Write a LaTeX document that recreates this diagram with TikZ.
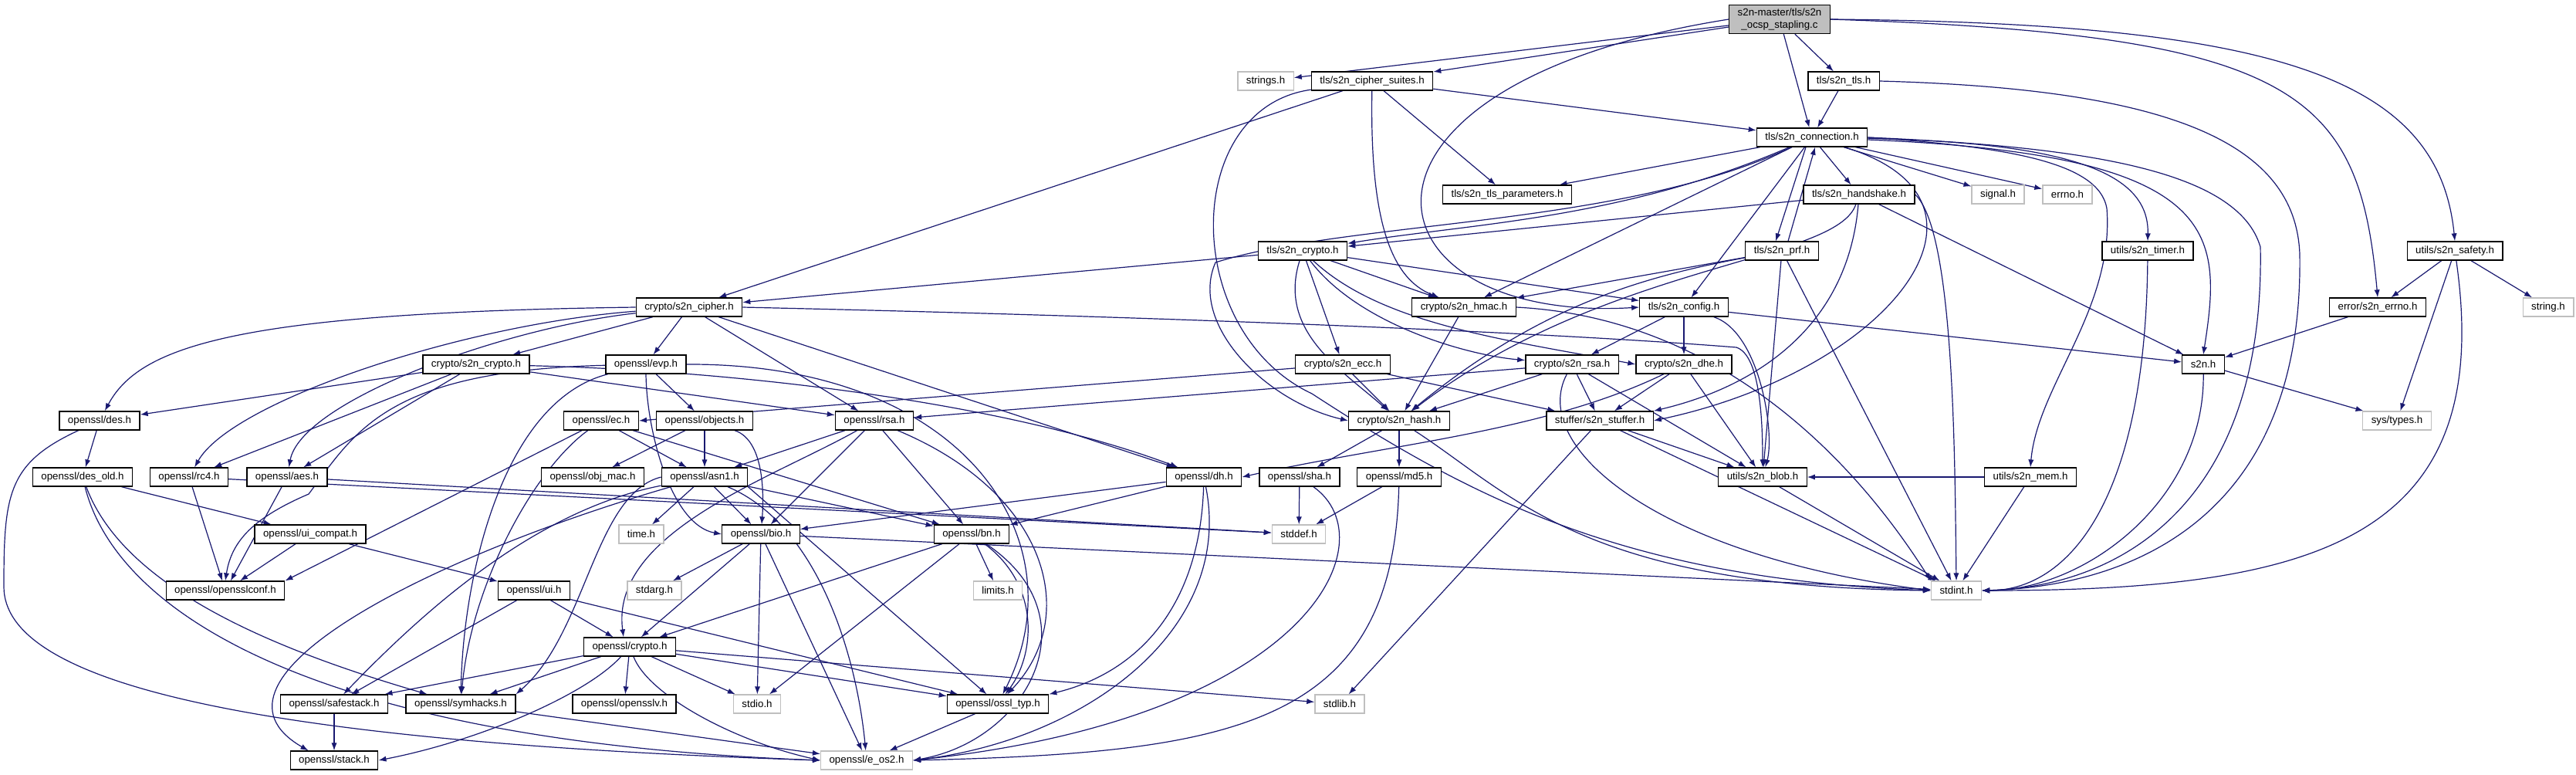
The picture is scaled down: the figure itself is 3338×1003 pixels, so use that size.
\documentclass[tikz,border=0pt]{standalone}
\usepackage{fontspec}
\setmainfont{Liberation Sans}
\usetikzlibrary{arrows.meta}
\definecolor{edgeblue}{RGB}{25,25,112}
\definecolor{sysgray}{RGB}{191,191,191}
\pgfdeclarelayer{edges}
\pgfsetlayers{edges,main}

\begin{document}
\begin{tikzpicture}[
  x=0.5pt, y=-0.5pt,
  hdr/.style={draw=black, fill=white, line width=0.65pt, minimum height=12pt, inner xsep=5.5pt, inner ysep=0pt, font=\fontsize{6.65}{7.6}\selectfont},
  sys/.style={hdr, draw=sysgray},
  root/.style={hdr, fill=sysgray, minimum height=18.5pt, align=center},
  arr/.style={-{Latex[length=5pt,width=3.6pt]}, draw=edgeblue, line width=0.6pt}
]
\useasboundingbox (0,0) rectangle (3338,1003);

% rows of the include graph
\node[root] (main) at (2306,25) {s2n-master/tls/s2n\\\_ocsp\_stapling.c};

\node[sys] (strings) at (1640,105) {strings.h};
\node[hdr] (suites) at (1778,105) {tls/s2n\_cipher\_suites.h};
\node[hdr] (tlstls) at (2389,105) {tls/s2n\_tls.h};

\node[hdr] (conn) at (2348,178) {tls/s2n\_connection.h};

\node[hdr] (params) at (1953,252) {tls/s2n\_tls\_parameters.h};
\node[hdr] (hshake) at (2409,252) {tls/s2n\_handshake.h};
\node[sys] (signal) at (2589,252) {signal.h};
\node[sys] (errno) at (2679,252) {errno.h};

\node[hdr] (tlscrypto) at (1688,325) {tls/s2n\_crypto.h};
\node[hdr] (prf) at (2309,325) {tls/s2n\_prf.h};
\node[hdr] (timer) at (2783,325) {utils/s2n\_timer.h};
\node[hdr] (safety) at (3181,325) {utils/s2n\_safety.h};

\node[hdr] (cipher) at (893,398) {crypto/s2n\_cipher.h};
\node[hdr] (hmac) at (1897,398) {crypto/s2n\_hmac.h};
\node[hdr] (config) at (2182,398) {tls/s2n\_config.h};
\node[hdr] (s2nerrno) at (3081,398) {error/s2n\_errno.h};
\node[sys] (string) at (3302,398) {string.h};

\node[hdr] (scrypto) at (617,472) {crypto/s2n\_crypto.h};
\node[hdr] (evp) at (837,472) {openssl/evp.h};
\node[hdr] (ecc) at (1740,472) {crypto/s2n\_ecc.h};
\node[hdr] (srsa) at (2037,472) {crypto/s2n\_rsa.h};
\node[hdr] (dhe) at (2182,472) {crypto/s2n\_dhe.h};
\node[hdr] (s2nh) at (2855,472) {s2n.h};

\node[hdr] (des) at (129,545) {openssl/des.h};
\node[hdr] (ec) at (779,545) {openssl/ec.h};
\node[hdr] (objects) at (913,545) {openssl/objects.h};
\node[hdr] (orsa) at (1133,545) {openssl/rsa.h};
\node[hdr] (hash) at (1813,545) {crypto/s2n\_hash.h};
\node[hdr] (stuffer) at (2073,545) {stuffer/s2n\_stuffer.h};
\node[sys] (systypes) at (3106,545) {sys/types.h};

\node[hdr] (desold) at (107,618) {openssl/des\_old.h};
\node[hdr] (rc4) at (245,618) {openssl/rc4.h};
\node[hdr] (aes) at (372,618) {openssl/aes.h};
\node[hdr] (objmac) at (768,618) {openssl/obj\_mac.h};
\node[hdr] (asn1) at (913,618) {openssl/asn1.h};
\node[hdr] (dh) at (1560,618) {openssl/dh.h};
\node[hdr] (sha) at (1684,618) {openssl/sha.h};
\node[hdr] (md5) at (1813,618) {openssl/md5.h};
\node[hdr] (blob) at (2284,618) {utils/s2n\_blob.h};
\node[hdr] (mem) at (2631,618) {utils/s2n\_mem.h};

\node[hdr] (uicompat) at (402,692) {openssl/ui\_compat.h};
\node[sys] (time) at (831,692) {time.h};
\node[hdr] (bio) at (986,692) {openssl/bio.h};
\node[hdr] (bn) at (1259,692) {openssl/bn.h};
\node[sys] (stddef) at (1683,692) {stddef.h};

\node[hdr] (sslconf) at (292,765) {openssl/opensslconf.h};
\node[hdr] (ui) at (692,765) {openssl/ui.h};
\node[sys] (stdarg) at (848,765) {stdarg.h};
\node[sys] (limits) at (1293,765) {limits.h};
\node[sys] (stdint) at (2535,765) {stdint.h};

\node[hdr] (ocrypto) at (816,838) {openssl/crypto.h};

\node[hdr] (safestack) at (433,912) {openssl/safestack.h};
\node[hdr] (symhacks) at (597,912) {openssl/symhacks.h};
\node[hdr] (sslv) at (809,912) {openssl/opensslv.h};
\node[sys] (stdio) at (981,912) {stdio.h};
\node[hdr] (ossltyp) at (1293,912) {openssl/ossl\_typ.h};
\node[sys] (stdlib) at (1736,912) {stdlib.h};

\node[hdr] (stack) at (433,985) {openssl/stack.h};
\node[sys] (eos2) at (1123,985) {openssl/e\_os2.h};

\begin{pgfonlayer}{edges}
% s2n sources
\draw[arr] (main) -- (strings);
\draw[arr] (main) -- (suites);
\draw[arr] (main) -- (tlstls);
\draw[arr] (main) -- (conn);
\draw[arr] (main.west) .. controls (1700,110) and (1760,420) .. (config.west);
\draw[arr] (main.east) .. controls (2980,45) and (3057,120) .. (s2nerrno.north);
\draw[arr] (main.east) .. controls (2950,30) and (3160,100) .. (safety.north);

\draw[arr] (suites) -- (cipher);
\draw[arr] (suites) -- (params);
\draw[arr] (suites) .. controls (1775,280) and (1800,360) .. (hmac);
\draw[arr] (suites) -- (conn);
\draw[arr] (suites) .. controls (1530,140) and (1530,430) .. (1700,510) .. controls (1900,640) and (2100,750) .. (stdint.west);

\draw[arr] (tlstls) -- (conn);
\draw[arr] (tlstls.east) .. controls (2800,115) and (2975,180) .. (2980,330) .. controls (2985,680) and (2750,760) .. (stdint.east);

\draw[arr] (conn) -- (params);
\draw[arr] (conn) -- (hshake);
\draw[arr] (conn) .. controls (2100,285) and (1900,290) .. (tlscrypto);
\draw[arr] (conn) -- (config);
\draw[arr] ([xshift=-4pt]conn.south) -- ([xshift=-4pt]prf.north);
\draw[arr] (conn) .. controls (2620,260) and (2450,480) .. (stuffer.east);
\draw[arr] (conn) .. controls (2100,295) and (1750,285) .. (1575,340) .. controls (1540,420) and (1640,520) .. (hash.west);
\draw[arr] (conn) -- (hmac);
\draw[arr] (conn) .. controls (2700,185) and (2785,230) .. (timer.north);
\draw[arr] (conn.east) .. controls (2600,190) and (2720,210) .. (2730,270) .. controls (2740,400) and (2640,500) .. (mem.north);
\draw[arr] (conn) .. controls (2880,200) and (2880,300) .. (s2nh.north);
\draw[arr] (conn) -- (signal);
\draw[arr] (conn) -- (errno);
\draw[arr] (conn.east) .. controls (2700,190) and (2900,220) .. (2929,320) .. controls (2935,650) and (2750,760) .. (stdint.east);

\draw[arr] (hshake) -- (tlscrypto);
\draw[arr] (hshake) -- (s2nh);
\draw[arr] (hshake) .. controls (2395,420) and (2280,500) .. (stuffer.north east);
\draw[arr] (hshake) .. controls (2380,340) and (2080,340) .. (hash);
\draw[arr] (hshake.east) .. controls (2533,300) and (2533,600) .. (stdint.north);

\draw[arr] (tlscrypto) -- (cipher);
\draw[arr] (tlscrypto) .. controls (1655,430) and (1740,480) .. (hash);
\draw[arr] (tlscrypto) -- (ecc);
\draw[arr] (tlscrypto) .. controls (1760,420) and (1900,460) .. (srsa);
\draw[arr] (tlscrypto) -- (hmac);
\draw[arr] (tlscrypto) -- (config);
\draw[arr] (tlscrypto) .. controls (1790,420) and (1950,440) .. (dhe.west);

\draw[arr] ([xshift=4pt]prf.north) -- ([xshift=2pt]conn.south);
\draw[arr] (prf) -- (hmac);
\draw[arr] (prf) .. controls (2120,360) and (1990,400) .. (hash);
\draw[arr] (prf) -- (blob);
\draw[arr] (prf) -- (stdint);

\draw[arr] (hmac) -- (hash);
\draw[arr] (hmac.east) .. controls (2200,410) and (2380,560) .. (stdint.north west);

\draw[arr] (config) -- (srsa);
\draw[arr] (config) -- (dhe);
\draw[arr] (config) .. controls (2280,430) and (2300,560) .. (blob);
\draw[arr] (config) -- (s2nh);

\draw[arr] (cipher) -- (scrypto);
\draw[arr] (cipher) -- (evp);
\draw[arr] (cipher.west) .. controls (300,405) and (180,450) .. (des);
\draw[arr] (cipher) .. controls (600,420) and (300,520) .. (rc4);
\draw[arr] (cipher) .. controls (650,425) and (390,520) .. (aes);
\draw[arr] (cipher) -- (orsa);
\draw[arr] (cipher) -- (dh);
\draw[arr] (cipher.east) .. controls (1500,410) and (2000,430) .. (2250,450) .. controls (2280,460) and (2284,540) .. (blob.north);

\draw[arr] (scrypto) -- (des);
\draw[arr] (scrypto) -- (rc4);
\draw[arr] (scrypto) -- (aes);
\draw[arr] (scrypto) -- (orsa);
\draw[arr] (scrypto) .. controls (950,480) and (1300,520) .. (dh);

\draw[arr] (evp) .. controls (500,480) and (460,560) .. (400,640) .. controls (330,670) and (300,700) .. (sslconf.north);
\draw[arr] (evp) -- (objects);
\draw[arr] (evp.south) .. controls (838,560) and (870,680) .. (bio.west);
\draw[arr] (evp) .. controls (650,520) and (600,750) .. (symhacks);
\draw[arr] (evp.east) .. controls (1250,470) and (1400,700) .. (ossltyp);

\draw[arr] (ecc) -- (ec.east);
\draw[arr] (ecc) -- (hash);
\draw[arr] (ecc) -- (stuffer);

\draw[arr] (srsa) -- (orsa);
\draw[arr] (srsa) -- (hash);
\draw[arr] (srsa) -- (stuffer);
\draw[arr] (srsa) -- (blob);
\draw[arr] (srsa) .. controls (1980,580) and (2150,720) .. (stdint.west);

\draw[arr] (dhe) .. controls (2000,560) and (1800,575) .. (dh.east);
\draw[arr] (dhe) -- (stuffer);
\draw[arr] (dhe) -- (blob);

\draw[arr] (s2nh) -- (systypes);
\draw[arr] (s2nh) .. controls (2857,650) and (2700,765) .. (stdint.east);
\draw[arr] (s2nerrno) -- (s2nh);
\draw[arr] (safety) -- (s2nerrno);
\draw[arr] (safety) -- (string);
\draw[arr] (safety) -- (systypes);
\draw[arr] (safety) .. controls (3235,700) and (3000,765) .. (stdint.east);
\draw[arr] (timer) .. controls (2780,650) and (2680,765) .. (stdint.east);
\draw[arr] (mem) -- (blob);
\draw[arr] (mem) -- (stdint);
\draw[arr] (stuffer) -- (stdlib);
\draw[arr] (stuffer) -- (blob);
\draw[arr] (stuffer) -- (stdint);
\draw[arr] (blob) -- (stdint);
\draw[arr] (hash) -- (sha);
\draw[arr] (hash) -- (md5);
\draw[arr] (hash) .. controls (1960,640) and (2050,760) .. (stdint.west);

% openssl headers
\draw[arr] (des) -- (desold);
\draw[arr] (des) .. controls (10,600) and (5,640) .. (5,760) .. controls (5,880) and (300,960) .. (eos2.west);
\draw[arr] (desold) .. controls (150,790) and (400,960) .. (eos2.west);
\draw[arr] (desold) .. controls (160,760) and (350,840) .. (symhacks);
\draw[arr] (desold) -- (uicompat);

\draw[arr] (ec) -- (sslconf.north east);
\draw[arr] (ec) -- (asn1);
\draw[arr] (ec) .. controls (690,610) and (610,760) .. (symhacks);
\draw[arr] (ec) -- (bn);

\draw[arr] (objects) -- (objmac);
\draw[arr] (objects) -- (asn1);
\draw[arr] (objects) .. controls (990,570) and (990,640) .. (bio);

\draw[arr] (orsa) -- (asn1);
\draw[arr] (orsa) -- (bio);
\draw[arr] (orsa) -- (bn);
\draw[arr] (orsa) .. controls (1360,640) and (1400,800) .. (ossltyp);
\draw[arr] (orsa) .. controls (1000,620) and (790,690) .. ([xshift=-4pt]ocrypto.north);

\draw[arr] (dh) -- (bio);
\draw[arr] (dh) -- (bn);
\draw[arr] (dh) .. controls (1555,780) and (1480,870) .. (ossltyp.north east);
\draw[arr] (dh) .. controls (1600,820) and (1400,960) .. (eos2.east);

\draw[arr] (sha) -- (stddef);
\draw[arr] (sha) .. controls (1800,700) and (1700,930) .. (eos2.east);
\draw[arr] (md5) -- (stddef);
\draw[arr] (md5) .. controls (1805,940) and (1600,975) .. (eos2.east);

\draw[arr] (asn1) -- (time);
\draw[arr] (asn1) -- (bio);
\draw[arr] (asn1) -- (bn);
\draw[arr] (asn1) .. controls (560,720) and (240,880) .. ([xshift=12pt]stack.north west);
\draw[arr] (asn1) .. controls (700,660) and (560,780) .. (safestack);
\draw[arr] (asn1.west) .. controls (770,640) and (760,820) .. (symhacks.north east);
\draw[arr] (asn1.south east) -- (ossltyp);
\draw[arr] (asn1) .. controls (1060,680) and (1110,850) .. (eos2);

\draw[arr] (bio) -- (stdarg);
\draw[arr] (bio) -- (ocrypto);
\draw[arr] (bio) -- (stdio);
\draw[arr] (bio) -- (eos2);
\draw[arr] (bio) -- (stdint);

\draw[arr] (bn) -- (ocrypto);
\draw[arr] (bn) -- (stdio);
\draw[arr] (bn) -- (limits);
\draw[arr] (bn) .. controls (1350,760) and (1340,850) .. (ossltyp);
\draw[arr] (bn) .. controls (1420,800) and (1330,960) .. (eos2.east);

\draw[arr] (uicompat) -- (sslconf);
\draw[arr] (uicompat) -- (ui);
\draw[arr] (ui) -- (ocrypto);
\draw[arr] (ui) -- (safestack);
\draw[arr] (ui) -- (ossltyp);
\draw[arr] (rc4) -- (sslconf);
\draw[arr] (rc4) -- (stddef);
\draw[arr] (aes) -- (sslconf);
\draw[arr] (aes) -- (stddef);

\draw[arr] (ocrypto) -- (safestack);
\draw[arr] (ocrypto) -- (symhacks);
\draw[arr] (ocrypto) -- (sslv);
\draw[arr] (ocrypto) .. controls (760,900) and (620,960) .. (stack.east);
\draw[arr] (ocrypto) -- (stdio);
\draw[arr] (ocrypto) -- (ossltyp);
\draw[arr] (ocrypto) .. controls (840,900) and (950,960) .. (eos2.west);
\draw[arr] (ocrypto) -- (stdlib);

\draw[arr] (safestack) -- (stack);
\draw[arr] (symhacks) -- (eos2);
\draw[arr] (ossltyp) -- (eos2);
\end{pgfonlayer}
\end{tikzpicture}
\end{document}
